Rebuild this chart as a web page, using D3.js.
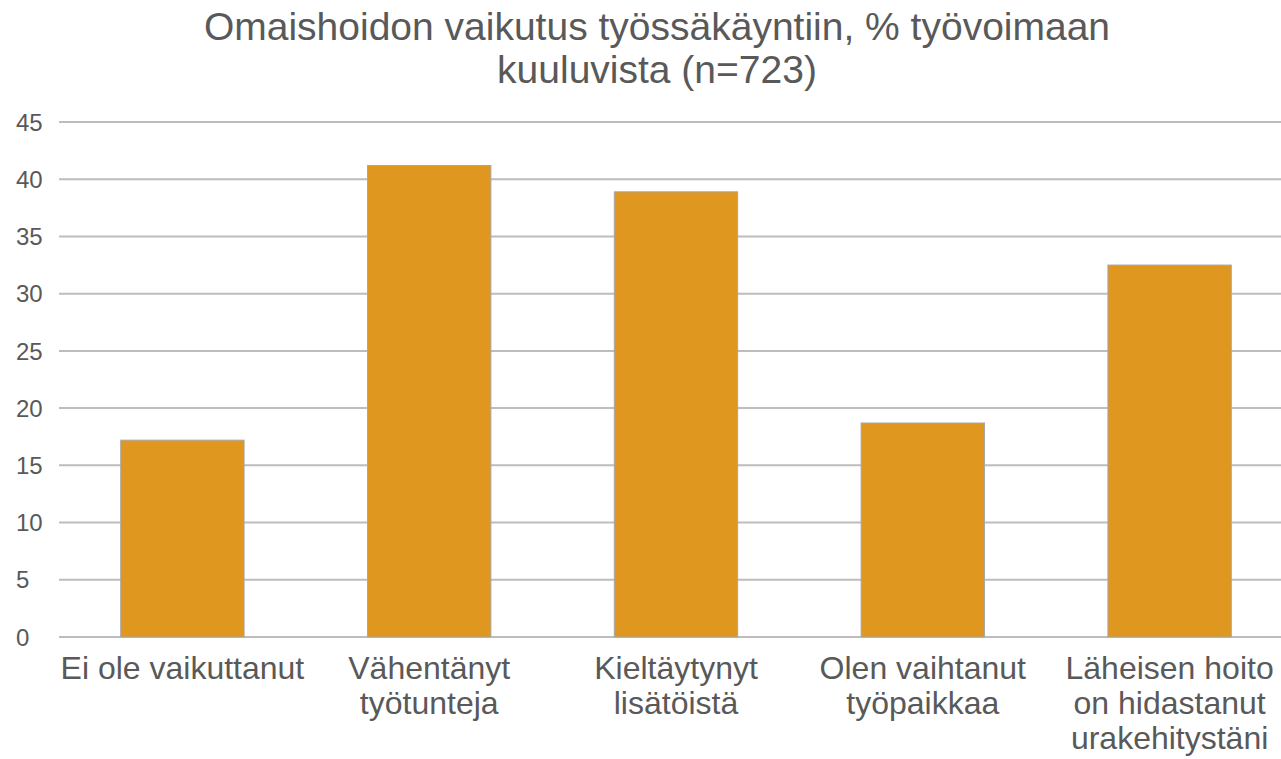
<!DOCTYPE html>
<html>
<head>
<meta charset="utf-8">
<script src="https://cdn.jsdelivr.net/npm/d3@7"></script>
<style>
  body { margin: 0; background: #fff; }
  text { font-family: "Liberation Sans", Arial, sans-serif; fill: #595959; }
</style>
</head>
<body>
<svg width="1281" height="759"></svg>
<script>
// data
const categories = [
  ['Ei ole vaikuttanut'],
  ['Vähentänyt', 'työtunteja'],
  ['Kieltäytynyt', 'lisätöistä'],
  ['Olen vaihtanut', 'työpaikkaa'],
  ['Läheisen hoito', 'on hidastanut', 'urakehitystäni']
];
const values = [17.2, 41.2, 38.9, 18.7, 32.5];
const yTicks = [0, 5, 10, 15, 20, 25, 30, 35, 40, 45];
const titleLines = ['Omaishoidon vaikutus työssäkäyntiin, % työvoimaan', 'kuuluvista (n=723)'];

const svg = d3.select('svg');

// plot area
const plotLeft = 59, plotRight = 1293, plotTop = 122, plotBottom = 637;

const x = d3.scaleBand()
  .domain(d3.range(categories.length))
  .range([plotLeft, plotRight])
  .paddingInner(0.5)
  .paddingOuter(0.25);

const y = d3.scaleLinear()
  .domain([0, 45])
  .range([plotBottom, plotTop]);

// gridlines
svg.append('g')
  .selectAll('line')
  .data(yTicks)
  .enter()
  .append('line')
  .attr('x1', plotLeft)
  .attr('x2', plotRight)
  .attr('y1', d => y(d))
  .attr('y2', d => y(d))
  .attr('stroke', '#bdbdbd')
  .attr('stroke-width', 2);

// y axis labels (left aligned like the original)
svg.append('g')
  .selectAll('text')
  .data(yTicks)
  .enter()
  .append('text')
  .attr('x', 16)
  .attr('y', d => y(d))
  .attr('dy', '0.36em')
  .attr('text-anchor', 'start')
  .style('font-size', '24px')
  .text(d => d);

// bars
svg.append('g')
  .selectAll('rect')
  .data(values)
  .enter()
  .append('rect')
  .attr('x', (d, i) => x(i))
  .attr('y', d => y(d))
  .attr('width', x.bandwidth())
  .attr('height', d => y(0) - y(d))
  .attr('fill', '#DF971F')
  .attr('stroke', '#a8a8a8')
  .attr('stroke-width', 1);

// category labels
const cat = svg.append('g')
  .selectAll('text')
  .data(categories)
  .enter()
  .append('text')
  .attr('text-anchor', 'middle')
  .style('font-size', '32px');

cat.selectAll('tspan')
  .data((d, i) => d.map(t => ({ t: t, i: i })))
  .enter()
  .append('tspan')
  .attr('x', d => x(d.i) + x.bandwidth() / 2)
  .attr('y', (d, j) => 679 + j * 35)
  .text(d => d.t);

// title
svg.append('text')
  .attr('text-anchor', 'middle')
  .style('font-size', '39px')
  .selectAll('tspan')
  .data(titleLines)
  .enter()
  .append('tspan')
  .attr('x', 657)
  .attr('y', (d, i) => 40 + i * 43)
  .text(d => d);
</script>
</body>
</html>
